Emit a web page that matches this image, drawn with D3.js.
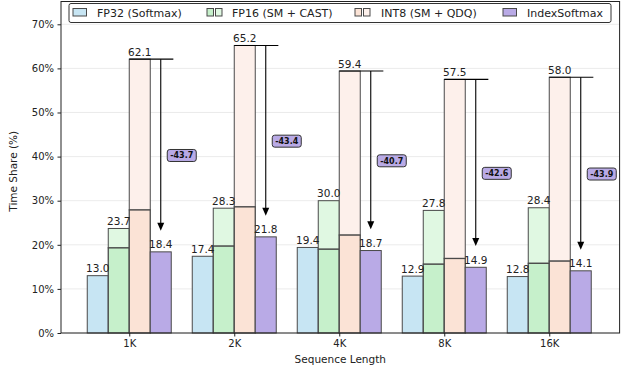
<!DOCTYPE html>
<html>
<head>
<meta charset="utf-8">
<script src="https://cdn.jsdelivr.net/npm/d3@7"></script>
<style>
  html, body { margin: 0; padding: 0; background: #fff; }
  svg { display: block; font-family: "DejaVu Sans", sans-serif; }
</style>
</head>
<body>
<svg id="chart" width="622" height="375"></svg>
<script>
// Softmax time share per sequence length
const categories = ["1K", "2K", "4K", "8K", "16K"];
const fp32Softmax = [13.0, 17.4, 19.4, 12.9, 12.8];
const fp16Total = [23.7, 28.3, 30.0, 27.8, 28.4];
const fp16Softmax = [19.3, 19.7, 19.0, 15.6, 15.8];
const int8Total = [62.1, 65.2, 59.4, 57.5, 58.0];
const int8Softmax = [27.9, 28.6, 22.2, 16.9, 16.3];
const indexSoftmax = [18.4, 21.8, 18.7, 14.9, 14.1];
const yTicks = [0, 10, 20, 30, 40, 50, 60, 70];
const legendLabels = ["FP32 (Softmax)", "FP16 (SM + CAST)", "INT8 (SM + QDQ)", "IndexSoftmax"];

const colors = {
  fp32: "#c7e5f3",
  fp16Low: "#c6f0cb",
  fp16High: "#e0f8e2",
  int8Low: "#fbe3d6",
  int8High: "#fdf0eb",
  idx: "#b9aae6",
  edge: "#4a4a4a"
};

const svg = d3.select("#chart");
const plotLeft = 61, plotRight = 619.6, plotTop = 1.5, plotBottom = 333;
const barW = 0.2;

const x = d3.scaleLinear().domain([-0.65, 4.67]).range([plotLeft, plotRight]);
const y = d3.scaleLinear().domain([0, 75.17]).range([plotBottom, plotTop]);
const px = v => x(v) - x(0); // width in pixels for a data span

// grid
svg.append("g").selectAll("line").data(yTicks).join("line")
  .attr("x1", plotLeft).attr("x2", plotRight)
  .attr("y1", d => y(d)).attr("y2", d => y(d))
  .attr("stroke", "#e6e6e6").attr("stroke-width", 0.8);

const bars = svg.append("g");
function drawBar(cx, v0, v1, fill, sw) {
  bars.append("rect")
    .attr("x", x(cx - barW / 2)).attr("width", px(barW))
    .attr("y", y(v1)).attr("height", y(v0) - y(v1))
    .attr("fill", fill).attr("stroke", colors.edge).attr("stroke-width", sw || 1);
}
function valueLabel(cx, v) {
  svg.append("text")
    .attr("x", x(cx)).attr("y", y(v) - 3.5)
    .attr("text-anchor", "middle").attr("font-size", 10.5).attr("fill", "#222")
    .text(v.toFixed(1));
}

categories.forEach((c, i) => {
  const c1 = i - 1.5 * barW, c2 = i - 0.5 * barW, c3 = i + 0.5 * barW, c4 = i + 1.5 * barW;
  drawBar(c1, 0, fp32Softmax[i], colors.fp32);
  drawBar(c2, fp16Softmax[i], fp16Total[i], colors.fp16High);
  drawBar(c2, 0, fp16Softmax[i], colors.fp16Low, 1.3);
  drawBar(c3, int8Softmax[i], int8Total[i], colors.int8High);
  drawBar(c3, 0, int8Softmax[i], colors.int8Low, 1.3);
  drawBar(c4, 0, indexSoftmax[i], colors.idx);
});

categories.forEach((c, i) => {
  valueLabel(i - 1.5 * barW, fp32Softmax[i]);
  valueLabel(i - 0.5 * barW, fp16Total[i]);
  valueLabel(i + 0.5 * barW, int8Total[i]);
  valueLabel(i + 1.5 * barW, indexSoftmax[i]);
});

// reduction arrows from INT8 total down to IndexSoftmax
const ann = svg.append("g");
categories.forEach((c, i) => {
  const cInt8 = i + 0.5 * barW, cIdx = i + 1.5 * barW;
  const yTop = y(int8Total[i]);
  const yTip = y(indexSoftmax[i] + 4.8);
  ann.append("line")
    .attr("x1", x(cInt8 - barW / 2)).attr("x2", x(cIdx + 0.6 * barW))
    .attr("y1", yTop).attr("y2", yTop)
    .attr("stroke", "#000").attr("stroke-width", 1.1);
  ann.append("line")
    .attr("x1", x(cIdx)).attr("x2", x(cIdx))
    .attr("y1", yTop).attr("y2", yTip - 7)
    .attr("stroke", "#000").attr("stroke-width", 1.1);
  const ax = x(cIdx);
  ann.append("path")
    .attr("d", `M${ax - 3.5},${yTip - 8} L${ax + 3.5},${yTip - 8} L${ax},${yTip} Z`)
    .attr("fill", "#000");

  const diff = indexSoftmax[i] - int8Total[i];
  const mid = (indexSoftmax[i] + int8Total[i]) / 2;
  const bx = x(cIdx + 0.2), by = y(mid);
  const bw = 29, bh = 12;
  ann.append("rect")
    .attr("x", bx - bw / 2).attr("y", by - bh / 2)
    .attr("width", bw).attr("height", bh).attr("rx", 2.5)
    .attr("fill", colors.idx).attr("stroke", "#333").attr("stroke-width", 1);
  ann.append("text")
    .attr("x", bx).attr("y", by + 3)
    .attr("text-anchor", "middle").attr("font-size", 8).attr("font-weight", "bold")
    .attr("fill", "#111")
    .text(diff.toFixed(1));
});

// axes
const yAxis = d3.axisLeft(y).tickValues(yTicks).tickFormat(d => d + "%").tickSize(3.5).tickPadding(3.5);
const gy = svg.append("g").attr("transform", `translate(${plotLeft},0)`).call(yAxis);
gy.select(".domain").remove();
gy.selectAll("text").attr("font-size", 10).attr("fill", "#222").attr("font-family", "DejaVu Sans, sans-serif");
gy.selectAll("line").attr("stroke", "#222");

const xAxis = d3.axisBottom(x).tickValues(d3.range(categories.length))
  .tickFormat(i => categories[i]).tickSize(3.5).tickPadding(3.5);
const gx = svg.append("g").attr("transform", `translate(0,${plotBottom})`).call(xAxis);
gx.select(".domain").remove();
gx.selectAll("text").attr("font-size", 10).attr("fill", "#222").attr("font-family", "DejaVu Sans, sans-serif");
gx.selectAll("line").attr("stroke", "#222");

// frame
svg.append("rect")
  .attr("x", plotLeft).attr("y", plotTop).attr("width", plotRight - plotLeft).attr("height", plotBottom - plotTop)
  .attr("fill", "none").attr("stroke", "#222").attr("stroke-width", 1);

// axis titles
svg.append("text")
  .attr("transform", `translate(17,${(plotTop + plotBottom) / 2 + 4}) rotate(-90)`)
  .attr("text-anchor", "middle").attr("font-size", 10.5).attr("fill", "#222")
  .text("Time Share (%)");
svg.append("text")
  .attr("x", (plotLeft + plotRight) / 2).attr("y", 363)
  .attr("text-anchor", "middle").attr("font-size", 10.5).attr("fill", "#222")
  .text("Sequence Length");

// legend
const lg = svg.append("g");
lg.append("rect")
  .attr("x", 69).attr("y", 3.5).attr("width", 542).attr("height", 19).attr("rx", 2)
  .attr("fill", "#fff").attr("fill-opacity", 0.85).attr("stroke", "#333").attr("stroke-width", 1);
const entries = [
  { x: 73, fills: [colors.fp32], tx: 97 },
  { x: 207, fills: [colors.fp16Low, colors.fp16High], tx: 232 },
  { x: 355, fills: [colors.int8Low, colors.int8High], tx: 381 },
  { x: 503, fills: [colors.idx], tx: 527 }
];
entries.forEach((e, k) => {
  if (e.fills.length === 1) {
    lg.append("rect").attr("x", e.x).attr("y", 8.5).attr("width", 13.5).attr("height", 7.5)
      .attr("fill", e.fills[0]).attr("stroke", colors.edge).attr("stroke-width", 1);
  } else {
    e.fills.forEach((f, j) => {
      lg.append("rect").attr("x", e.x + j * 8.5).attr("y", 8.5).attr("width", 6.5).attr("height", 7.5)
        .attr("fill", f).attr("stroke", colors.edge).attr("stroke-width", 1);
    });
  }
  lg.append("text").attr("x", e.tx).attr("y", 16.8)
    .attr("font-size", 11).attr("fill", "#222").text(legendLabels[k]);
});
</script>
</body>
</html>
